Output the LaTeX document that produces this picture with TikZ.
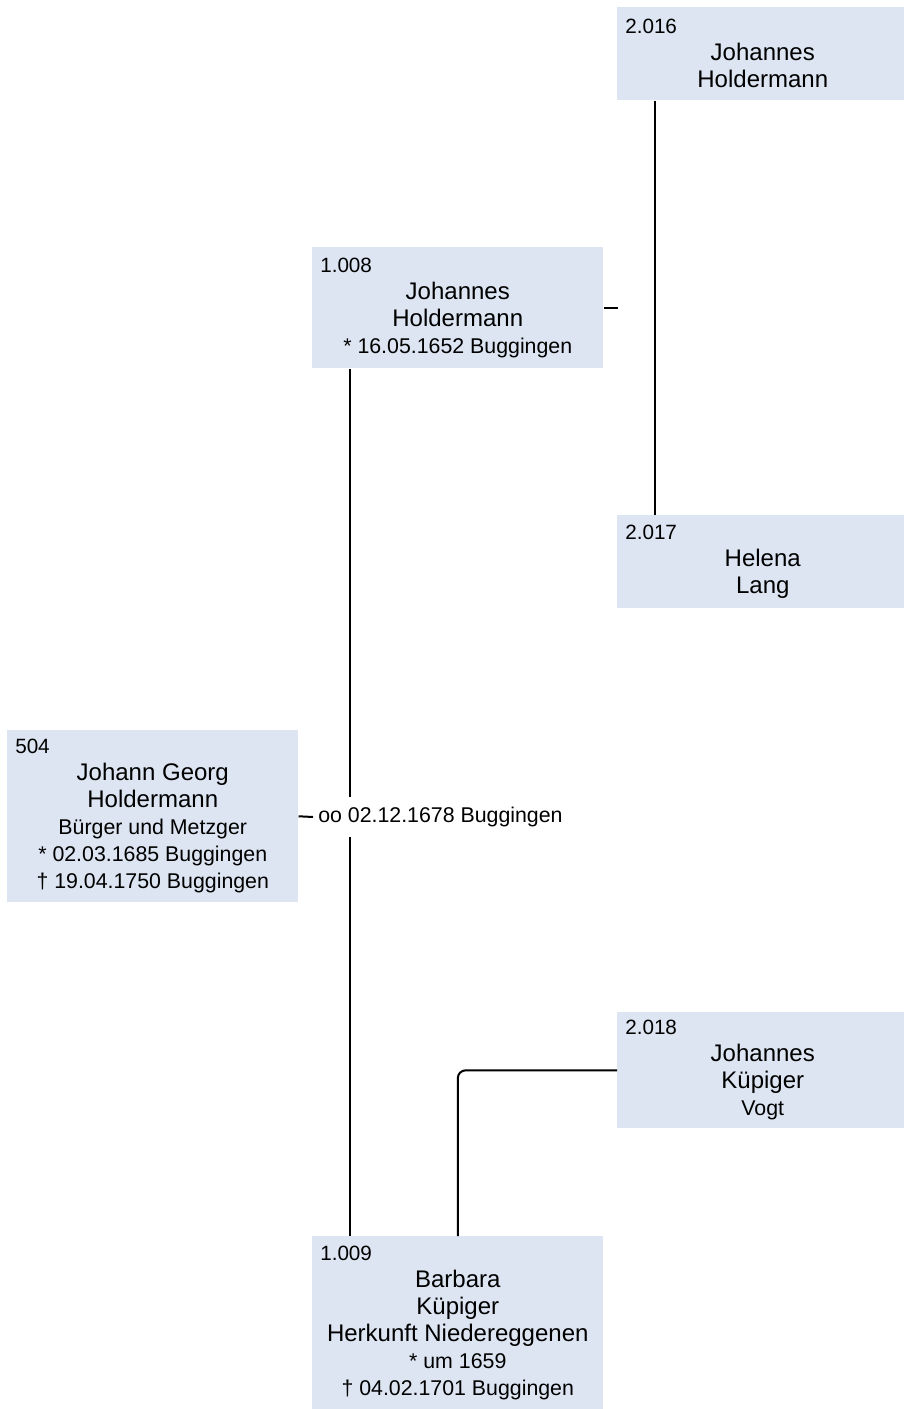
\documentclass[tikz,border=0pt]{standalone}
\usepackage{fontspec}
\setmainfont{Liberation Sans}
\usepackage{xcolor}
\usepackage{tikz}
\usetikzlibrary{positioning,calc}

\definecolor{boxfill}{RGB}{220,229,241}
\newcommand\numfont{\fontsize{15.5}{20.25}\selectfont}
\newcommand\namefont{\fontsize{18}{20.25}\selectfont}
\newcommand\infofont{\fontsize{16}{20.25}\selectfont}
\newcommand\pnum[1]{\makebox[\linewidth][l]{\numfont #1}\\}

\begin{document}
\begin{tikzpicture}[
  x=0.75pt,y=-0.75pt,
  person/.style={rectangle,fill=boxfill,anchor=north west,inner xsep=6pt,inner ysep=0pt,text width=206.25pt,minimum width=218.25pt,align=flush center,font=\namefont},
  marriage/.style={anchor=west,inner xsep=3.75pt,inner ysep=7pt,font=\infofont},
  link/.style={line width=1.5pt,rounded corners=6pt}
]
\useasboundingbox (0,0) rectangle (903,1409);

% generation 2.0xx
\node[person,minimum height=69.75pt] (p2016) at (617,7) {\pnum{2.016}\namefont Johannes\\Holdermann};
\node[person,minimum height=69.75pt] (p2017) at (617,515) {\pnum{2.017}\namefont Helena\\Lang};
\node[person,minimum height=87pt] (p2018) at (617,1012) {\pnum{2.018}\namefont Johannes\\Küpiger\\\infofont Vogt};

% parents
\node[person,minimum height=90.75pt] (p1008) at (312,247) {\pnum{1.008}\namefont Johannes\\Holdermann\\\infofont{}* 16.05.1652 Buggingen};
\node[person,minimum height=129.75pt] (p1009) at (312,1236) {\pnum{1.009}\namefont Barbara\\Küpiger\\Herkunft Niedereggenen\\\infofont{}* um 1659\\{}† 04.02.1701 Buggingen};

% proband
\node[person,minimum height=129pt] (p504) at (7,730) {\pnum{504}\namefont Johann Georg\\Holdermann\\\infofont Bürger und Metzger\\{}* 02.03.1685 Buggingen\\{}† 19.04.1750 Buggingen};

\node[marriage] (marr) at (313,817) {oo 02.12.1678 Buggingen};
\coordinate (d1008) at ([xshift=10.5pt]p1008.east);

\draw[link] ([xshift=28.5pt]p2016.south west) -- ([xshift=28.5pt]p2017.north west);
\draw[link] (p1008.east) -- (d1008);
\draw[link] ([xshift=28.5pt]p1008.south west) -- ([xshift=28.5pt]p1008.south west |- marr.north);
\draw[link] ([xshift=28.5pt]p1009.north west |- marr.south) -- ([xshift=28.5pt]p1009.north west);
\draw[link] (p504.east) -- (marr.west);
\draw[link] (p1009.north) |- (p2018.west);
\end{tikzpicture}
\end{document}
